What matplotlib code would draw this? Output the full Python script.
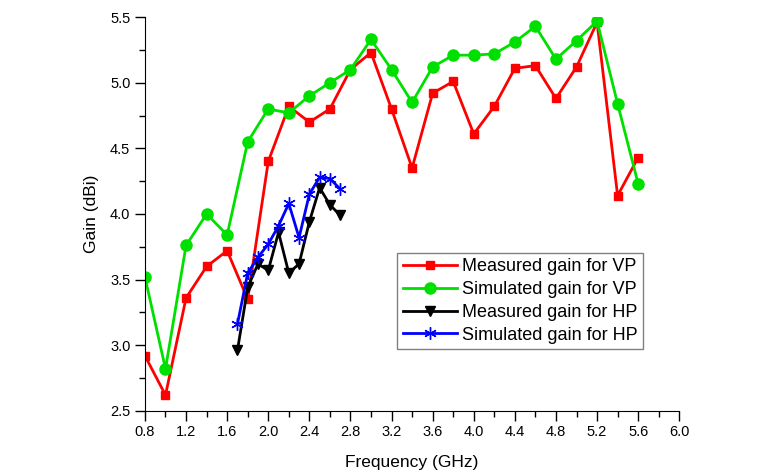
import numpy as np
import matplotlib
matplotlib.use('Agg')
import matplotlib.pyplot as plt
from matplotlib.ticker import MultipleLocator

plt.rcParams['font.family'] = ['Liberation Sans', 'DejaVu Sans']

# VP data, 0.8 - 5.6 GHz step 0.2
freq_vp = [0.8, 1.0, 1.2, 1.4, 1.6, 1.8, 2.0, 2.2, 2.4, 2.6, 2.8, 3.0, 3.2,
           3.4, 3.6, 3.8, 4.0, 4.2, 4.4, 4.6, 4.8, 5.0, 5.2, 5.4, 5.6]
meas_vp = [2.92, 2.62, 3.36, 3.60, 3.72, 3.35, 4.40, 4.82, 4.70, 4.80, 5.10, 5.23, 4.80,
           4.35, 4.92, 5.01, 4.61, 4.82, 5.11, 5.13, 4.88, 5.12, 5.46, 4.14, 4.43]
sim_vp = [3.52, 2.82, 3.76, 4.00, 3.84, 4.55, 4.80, 4.77, 4.90, 5.00, 5.10, 5.33, 5.10,
          4.85, 5.12, 5.21, 5.21, 5.22, 5.31, 5.43, 5.18, 5.32, 5.47, 4.84, 4.23]

# HP data, 1.7 - 2.7 GHz step 0.1
freq_hp = [1.7, 1.8, 1.9, 2.0, 2.1, 2.2, 2.3, 2.4, 2.5, 2.6, 2.7]
meas_hp = [2.96, 3.44, 3.62, 3.57, 3.86, 3.55, 3.62, 3.94, 4.20, 4.07, 3.99]
sim_hp = [3.16, 3.55, 3.67, 3.77, 3.91, 4.08, 3.82, 4.15, 4.28, 4.27, 4.19]

fig = plt.figure(figsize=(7.71, 4.75), dpi=100)
ax = fig.add_axes([0.188, 0.135, 0.693, 0.829])

ax.plot(freq_vp, meas_vp, color='#ff0000', marker='s', ms=6, lw=2, label='Measured gain for VP')
ax.plot(freq_vp, sim_vp, color='#00e000', marker='o', ms=8, lw=2, label='Simulated gain for VP')
ax.plot(freq_hp, meas_hp, color='black', marker='v', ms=7, lw=2, label='Measured gain for HP')
ax.plot(freq_hp, sim_hp, color='#0000ff', marker=(6, 2, 0), ms=9, mew=1.0, lw=2,
        label='Simulated gain for HP')

ax.set_xlim(0.8, 6.0)
ax.set_ylim(2.5, 5.5)
ax.xaxis.set_major_locator(MultipleLocator(0.4))
ax.xaxis.set_minor_locator(MultipleLocator(0.2))
ax.yaxis.set_major_locator(MultipleLocator(0.5))
ax.yaxis.set_minor_locator(MultipleLocator(0.25))
ax.xaxis.set_major_formatter(plt.FormatStrFormatter('%.1f'))
ax.yaxis.set_major_formatter(plt.FormatStrFormatter('%.1f'))

ax.spines['top'].set_visible(False)
ax.spines['right'].set_visible(False)
ax.tick_params(which='major', direction='out', length=7, width=1, labelsize=10.5)
ax.tick_params(which='minor', direction='out', length=4, width=1)

ax.set_xlabel('Frequency (GHz)', fontsize=12.5, labelpad=11)
ax.set_ylabel('Gain (dBi)', fontsize=12.5, labelpad=8)

leg = ax.legend(loc='upper left', bbox_to_anchor=(0.472, 0.401), borderaxespad=0,
                fontsize=13, handlelength=3, handletextpad=0.3, labelspacing=0.32,
                borderpad=0.3, fancybox=False, framealpha=1, edgecolor='#808080')
leg.get_frame().set_linewidth(1)

fig.savefig('out.png', dpi=100)
